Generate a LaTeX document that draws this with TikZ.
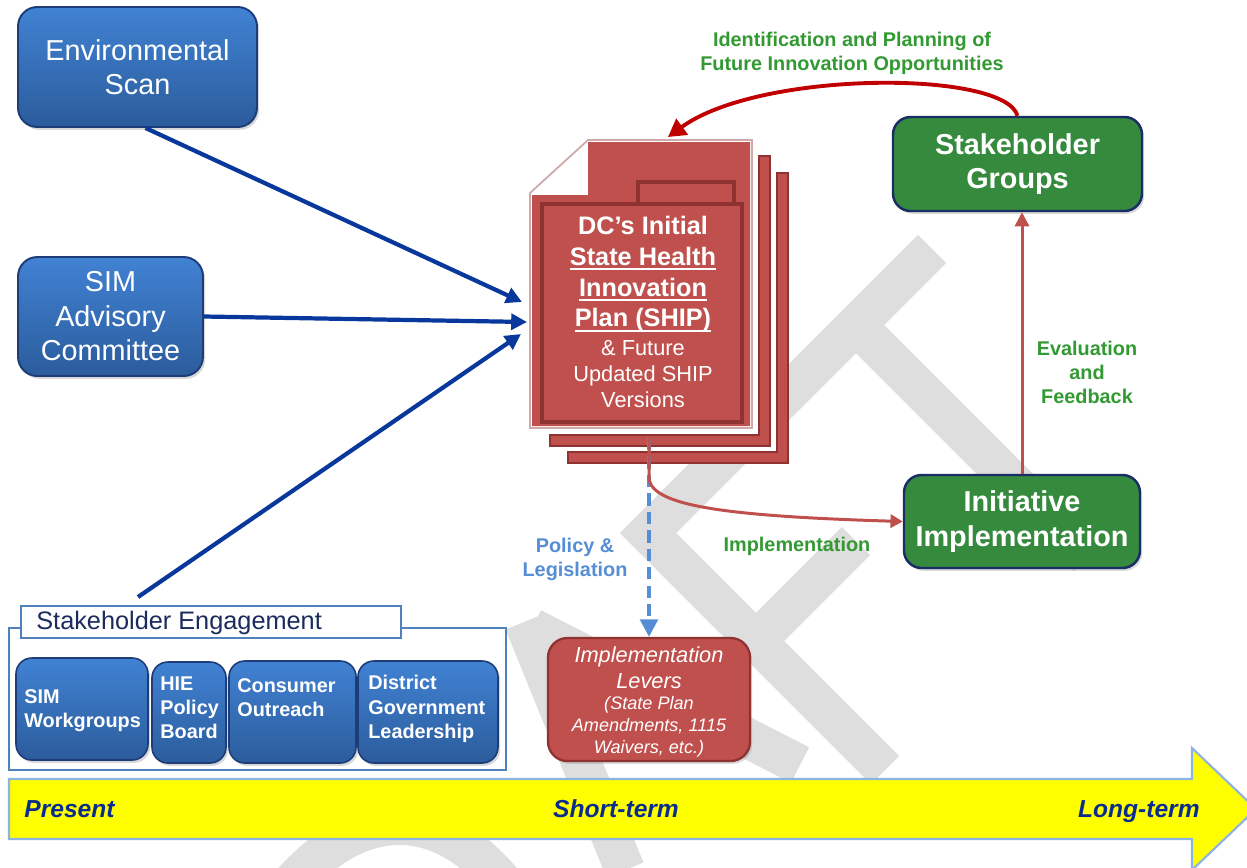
\documentclass[tikz,border=0pt]{standalone}
\usepackage{fontspec}
\setmainfont{Liberation Sans}
\usetikzlibrary{arrows.meta,shadows,calc}

\definecolor{bluetop}{HTML}{4182D3}
\definecolor{bluebot}{HTML}{2B5C9C}
\definecolor{blueedge}{HTML}{1D3C78}
\definecolor{navyline}{HTML}{08389C}
\definecolor{docred}{HTML}{C0504D}
\definecolor{docdark}{HTML}{8E3331}
\definecolor{docrim}{HTML}{CDA9A9}
\definecolor{boxgreen}{HTML}{358A3E}
\definecolor{greenedge}{HTML}{1A2E66}
\definecolor{greentext}{HTML}{339933}
\definecolor{policyblue}{HTML}{558ED5}
\definecolor{arcred}{HTML}{C00000}
\definecolor{bandyellow}{HTML}{FFFF00}
\definecolor{bandedge}{HTML}{8DB3E2}
\definecolor{timetext}{HTML}{0A2C8C}
\definecolor{engageedge}{HTML}{4F81BD}
\definecolor{engagetext}{HTML}{1C2B5E}
\definecolor{wmgray}{HTML}{DEDEDE}

\newcommand{\pxl}{0.02cm}
\newsavebox{\ulbox}
\newcommand{\thickul}[1]{\leavevmode\sbox{\ulbox}{#1}\rlap{\rule[-2.6pt]{\wd\ulbox}{1.1pt}}\usebox{\ulbox}}

\tikzset{
  softshadow/.style={drop shadow={shadow xshift=1.2pt, shadow yshift=-1.6pt, opacity=0.3}},
  bluebox/.style={draw=blueedge, line width=1.1pt, rounded corners=11pt,
    top color=bluetop, bottom color=bluebot, text=white, align=center,
    inner sep=0pt, softshadow},
  tilebox/.style={bluebox, rounded corners=9pt, line width=0.9pt},
  tiletext/.style={text=white, align=left, anchor=west, inner sep=0pt,
    font=\fontsize{11.3}{13.8}\selectfont\bfseries},
  greenbox/.style={draw=greenedge, line width=1.4pt, fill=boxgreen,
    rounded corners=10pt, text=white, align=center, inner sep=0pt,
    font=\fontsize{16.4}{19.8}\selectfont\bfseries, softshadow},
  leverbox/.style={draw=docdark, line width=1.3pt, fill=docred,
    rounded corners=11pt, inner sep=0pt, softshadow},
  leveltext/.style={text=white, align=center, inner sep=0pt},
  navyarrow/.style={draw=navyline, line width=2.4pt, -{Triangle[length=9pt,width=9pt]}},
  greenlabel/.style={text=greentext, align=center, inner sep=0pt,
    font=\fontsize{11.3}{13.6}\selectfont\bfseries},
  timelabel/.style={text=timetext, inner sep=0pt,
    font=\fontsize{14}{16}\selectfont\bfseries\itshape},
  pagebar/.style={fill=docred, draw=docdark, line width=0.8pt},
}

\begin{document}
\begin{tikzpicture}[x=0.02cm, y=-0.02cm]
\useasboundingbox (0,0) rectangle (1247,867);
\clip (0,0) rectangle (1247,867);
\fill[white] (0,0) rectangle (1247,867);

% light grey DRAFT watermark strokes
\begin{scope}[draw=wmgray, line width=22.7pt, line cap=butt, line join=miter]
  \draw (932,249) -- (648,533) -- (885,770);
  \draw (856,325) -- (1088,557);
  \draw (756,641) -- (856,541);
  \draw (524,622) -- (625,870);
  \draw (532,628) -- (800,765);
  \draw (290,885) .. controls (360,805) and (440,805) .. (505,885);
\end{scope}

% timeline band
\draw[draw=bandedge, line width=1.2pt, fill=bandyellow]
  (9,779) -- (1192,779) -- (1192,748) -- (1256,809) -- (1192,870) -- (1192,839) -- (9,839) -- cycle;
\node[timelabel, anchor=base west] (present) at (24,817) {Present};
\node[timelabel, anchor=base] (short) at (616,817) {Short-term};
\node[timelabel, anchor=base east] (long) at (1200,817) {Long-term};

% input boxes
\node[bluebox, minimum width=239*\pxl, minimum height=120*\pxl,
  font=\fontsize{16.4}{19.5}\selectfont] (env) at (137.5,67) {Environmental\\Scan};
\node[bluebox, minimum width=185*\pxl, minimum height=119*\pxl,
  font=\fontsize{16.4}{19.6}\selectfont] (sim) at (110.5,316.5) {SIM\\Advisory\\Committee};

% stakeholder engagement group
\node[draw=engageedge, line width=1.4pt, fill=white, inner sep=0pt,
  minimum width=497*\pxl, minimum height=142*\pxl] (engage) at (257.5,699) {};
\node[draw=engageedge, line width=1.4pt, fill=white, inner sep=0pt,
  minimum width=380*\pxl, minimum height=32*\pxl] (engtitle) at (211,622) {};
\node[anchor=west, inner sep=0pt, text=engagetext,
  font=\fontsize{14.4}{17}\selectfont] (engtext) at (36,623) {Stakeholder Engagement};

\node[tilebox, minimum width=132*\pxl, minimum height=102*\pxl] (simwg) at (82,709) {};
\node[tilebox, minimum width=74*\pxl, minimum height=101*\pxl] (hie) at (189,712.5) {};
\node[tilebox, minimum width=127*\pxl, minimum height=102*\pxl] (cons) at (292.5,712) {};
\node[tilebox, minimum width=140*\pxl, minimum height=102*\pxl] (dist) at (428,712) {};
\node[tiletext] (simwgtext) at (24,710.5) {SIM\\Workgroups};
\node[tiletext] (hietext) at (160,707.5) {HIE\\Policy\\Board};
\node[tiletext] (constext) at (237,697.5) {Consumer\\Outreach};
\node[tiletext] (disttext) at (368,709) {District\\Government\\Leadership};

% document stack
\fill[white] (568,173) rectangle (788,463);
\draw[pagebar] (777,173) -- (788,173) -- (788,463) -- (568,463) -- (568,452) -- (777,452) -- cycle;
\fill[white] (550,156) rectangle (770,446);
\draw[pagebar] (759,156) -- (770,156) -- (770,446) -- (550,446) -- (550,435) -- (759,435) -- cycle;
\draw[draw=docrim, line width=1pt, fill=white]
  (530,193) -- (588,140) -- (752,140) -- (752,428) -- (530,428) -- cycle;
\fill[docred] (532,195) -- (588,195) -- (588,142) -- (750,142) -- (750,426) -- (532,426) -- cycle;
\draw[draw=docdark, line width=1.9pt, fill=docred] (638,182) rectangle (734,204);
\draw[draw=docdark, line width=2.3pt, fill=docred] (542,204) rectangle (742,422);
\node[text=white, align=center, inner sep=0pt,
  font=\fontsize{14.4}{17.6}\selectfont\bfseries] (shiptitle) at (643,274)
  {DC’s Initial\\\thickul{State Health}\\\thickul{Innovation}\\\thickul{Plan (SHIP)}};
\node[text=white, align=center, inner sep=0pt,
  font=\fontsize{12.4}{14.7}\selectfont] (shipsub) at (643,374)
  {\& Future\\Updated SHIP\\Versions};

\coordinate (tipA) at (522,302);
\coordinate (tipB) at (527,322);
\coordinate (tipC) at (521,334);
\coordinate (engtop) at (138,597);
\coordinate (docin) at (668,137);
\coordinate (stackout) at (649,438);

% outcome boxes
\node[greenbox, minimum width=249*\pxl, minimum height=94*\pxl] (sg) at (1017.5,164) {Stakeholder\\Groups};
\node[greenbox, minimum width=236*\pxl, minimum height=93*\pxl] (init) at (1022,521.5) {Initiative\\Implementation};
\node[leverbox, minimum width=202*\pxl, minimum height=123*\pxl] (levers) at (649,699.5) {};
\node[leveltext, font=\fontsize{12.4}{14.7}\selectfont\itshape] (levtop) at (649,668) {Implementation\\Levers};
\node[leveltext, font=\fontsize{10.3}{12.5}\selectfont\itshape] (levsub) at (649,727)
  {(State Plan\\Amendments, 1115\\Waivers, etc.)};

% inputs into the plan
\draw[navyarrow] ($(env.south)+(8,0)$) -- (tipA);
\draw[navyarrow] (sim.east) -- (tipB);
\draw[navyarrow] (engtop) -- (tipC);

% plan outputs
\draw[draw=policyblue, line width=2.2pt, dash pattern=on 7pt off 3.5pt,
  -{Triangle[length=10pt,width=10pt]}] (stackout) -- (levers.north);
\draw[draw=docred, line width=1.7pt, -{Triangle[length=7pt,width=7.5pt]}]
  (stackout) -- (649,478) .. controls (651,505) and (720,516) .. (init.west);
\draw[draw=docred, line width=1.7pt, -{Triangle[length=8pt,width=8pt]}]
  (init.north) -- (init.north |- sg.south);
\draw[draw=arcred, line width=2.2pt, -{Triangle[length=10pt,width=11pt]}]
  (sg.north) .. controls (1005,70) and (760,70) .. (docin);

% connector labels
\node[greenlabel] (identlab) at (852,53) {Identification and Planning of\\Future Innovation Opportunities};
\node[greenlabel] (evallab) at (1087,372) {Evaluation\\and\\Feedback};
\node[greenlabel] (implab) at (797,546) {Implementation};
\node[greenlabel, text=policyblue] (policylab) at (575,559) {Policy \&\\Legislation};
\end{tikzpicture}
\end{document}
